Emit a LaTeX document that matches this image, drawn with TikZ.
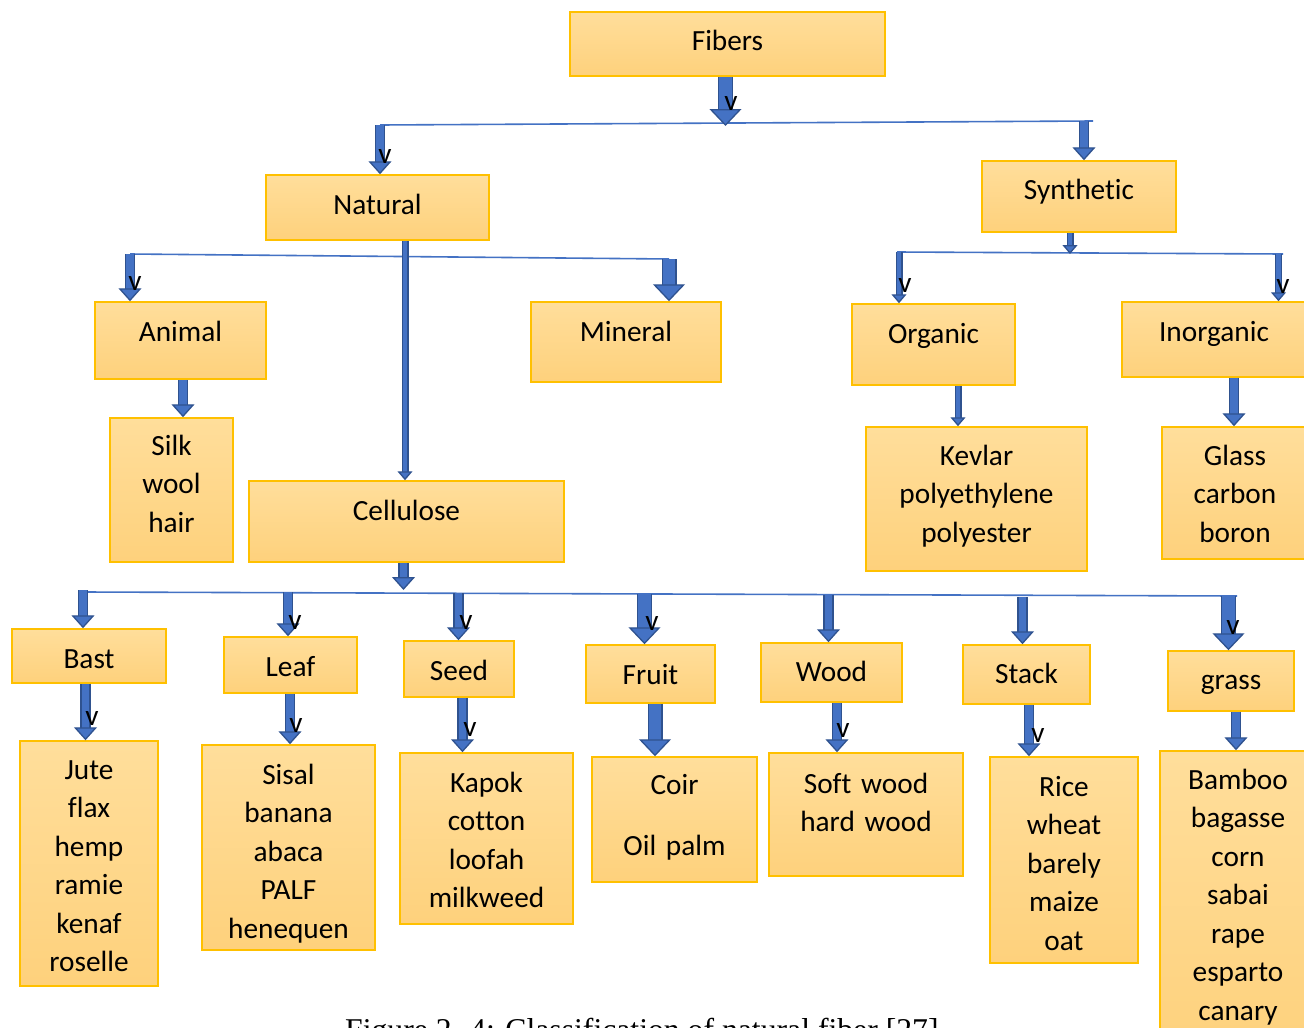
\documentclass[tikz,border=0pt]{standalone}
\usepackage{fontspec}
\setmainfont{Carlito}[Ligatures=NoCommon]
\newfontfamily\capfont{Liberation Serif}
\usetikzlibrary{arrows.meta}

\definecolor{boxedge}{RGB}{255,192,0}
\definecolor{boxtop}{RGB}{255,222,155}
\definecolor{boxbot}{RGB}{254,209,124}
\definecolor{arrowblue}{RGB}{68,114,196}
\definecolor{arrowedge}{RGB}{47,82,143}

\tikzset{
  fbox/.style={draw=boxedge, line width=1.5pt, top color=boxtop, bottom color=boxbot,
    anchor=base, inner sep=0pt, align=center, font=\fontsize{29.3}{38.5}\selectfont},
  blockarrow/.style n args={3}{draw=arrowblue, line width=#1-2.6pt,
    -{Triangle[width=#2, length=#3, fill=arrowblue, color=arrowedge, line width=1.3pt]},
    preaction={draw=arrowedge, line width=#1, -, shorten >=#3-1pt}},
  thinarr/.style={blockarrow={7pt}{15pt}{9pt}},
  midarr/.style={blockarrow={10.5pt}{23pt}{13pt}},
  bigarr/.style={blockarrow={15pt}{32pt}{17pt}},
  bus/.style={draw=arrowblue, line width=1.6pt},
  vmark/.style={inner sep=0pt, font=\fontsize{29.3}{30}\selectfont}
}

\begin{document}
\begin{tikzpicture}[x=1pt, y=-1pt]
  \useasboundingbox (0,0) rectangle (1304,1028);
  \clip (0,0) rectangle (1304,1028);
  \fill[white] (0,0) rectangle (1304,1028);

  % boxes: at (centre x, first baseline)
  \node[fbox, text width=315pt, text height=38pt, text depth=26pt] (fibers) at (727.5,50) {Fibers};
  \node[fbox, text width=223pt, text height=39pt, text depth=26pt] (natural) at (377.5,214) {Natural};
  \node[fbox, text width=194pt, text height=38pt, text depth=33pt] (synthetic) at (1079,199) {Synthetic};
  \node[fbox, text width=171pt, text height=39pt, text depth=38pt] (animal) at (180.5,341) {Animal};
  \node[fbox, text width=190pt, text height=39pt, text depth=41pt] (mineral) at (626,341) {Mineral};
  \node[fbox, text width=163pt, text height=39pt, text depth=42pt] (organic) at (933.5,343) {Organic};
  \node[fbox, text width=184pt, text height=39pt, text depth=36pt] (inorganic) at (1214,341) {Inorganic};
  \node[fbox, text width=123pt, text height=37pt, text depth=107pt] (silk) at (171.5,455) {Silk\\wool\\hair};
  \node[fbox, text width=315pt, text height=39pt, text depth=42pt] (cellulose) at (406.5,520) {Cellulose};
  \node[fbox, text width=221pt, text height=38pt, text depth=106pt] (kevlar) at (976.5,465) {Kevlar\\polyethylene\\polyester};
  \node[fbox, text width=146pt, text height=38pt, text depth=94pt] (glass) at (1235,465) {Glass\\carbon\\boron};

  \node[fbox, text width=154pt, text height=39pt, text depth=15pt] (bast) at (89,668) {Bast};
  \node[fbox, text width=133pt, text height=39pt, text depth=17pt] (leaf) at (290.5,676) {Leaf};
  \node[fbox, text width=110pt, text height=39pt, text depth=17pt] (seed) at (459,680) {Seed};
  \node[fbox, text width=129pt, text height=39pt, text depth=19pt] (fruit) at (650.5,684) {Fruit};
  \node[fbox, text width=141pt, text height=38pt, text depth=21pt] (wood) at (831.5,681) {Wood};
  \node[fbox, text width=127pt, text height=38pt, text depth=21pt] (stack) at (1026.5,683) {Stack};
  \node[fbox, text width=126pt, text height=38pt, text depth=22pt] (grass) at (1231,689) {grass};

  \node[fbox, text width=138pt, text height=38pt, text depth=207pt] (jute) at (89,779) {Jute\\flax\\hemp\\ramie\\kenaf\\roselle};
  \node[fbox, text width=173pt, text height=39pt, text depth=166pt] (sisal) at (288.5,784) {Sisal\\banana\\abaca\\PALF\\henequen};
  \node[fbox, text width=173pt, text height=39pt, text depth=132pt] (kapok) at (486.5,792) {Kapok\\cotton\\loofah\\milkweed};
  \node[fbox, text width=165pt, text height=37pt, text depth=88pt] (coir) at (674.5,794) {Coir\\[22.5pt]Oil palm};
  \node[fbox, text width=194pt, text height=40pt, text depth=83pt] (softwood) at (866,793) {Soft wood\\hard wood};
  \node[fbox, text width=148pt, text height=39pt, text depth=167pt] (rice) at (1064,796) {Rice\\wheat\\barely\\maize\\oat};
  \node[fbox, text width=156pt, text height=38pt, text depth=271pt] (bamboo) at (1238,789) {Bamboo\\bagasse\\corn\\sabai\\rape\\esparto\\canary};

  % bus lines
  \coordinate (tb-l) at (380,125);
  \coordinate (tb-r) at (1093,121);
  \coordinate (tb-s) at (1084,121.2);
  \coordinate (fb) at (725.5,126);
  \coordinate (nb-l) at (130,254);
  \coordinate (nb-r) at (669,259);
  \coordinate (sb) at (1070,254);
  \coordinate (sb-l) at (897,252);
  \coordinate (sb-r) at (1283,254);
  \coordinate (sb-o) at (899,252);
  \coordinate (sb-i) at (1278.5,254);
  \coordinate (cb) at (403.5,590);
  \coordinate (bb-l) at (84,592);
  \coordinate (bb-r) at (1237,596);
  \coordinate (r-bast) at (83,590);
  \coordinate (r-leaf) at (288,592);
  \coordinate (r-seed) at (458.5,593.3);
  \coordinate (r-fruit) at (644.5,594);
  \coordinate (r-wood) at (828.5,594.5);
  \coordinate (r-stack) at (1022.5,597);
  \coordinate (r-grass) at (1228.5,596);

  \draw[bus] (tb-l) -- (tb-r);
  \draw[bus] (nb-l) -- (nb-r);
  \draw[bus] (sb-l) -- (sb-r);
  \draw[bus] (bb-l) -- (bb-r);

  % arrows
  \draw[bigarr] (fibers.south -| fb) -- (fb);
  \draw[midarr] (tb-l) -- (tb-l |- natural.north);
  \draw[midarr] (tb-s) -- (tb-s |- synthetic.north);
  \draw[midarr] (nb-l) -- (nb-l |- animal.north);
  \draw[bigarr] (nb-r) -- (nb-r |- mineral.north);
  \draw[thinarr] ([xshift=-1.5pt]cellulose.north |- natural.south) -- ([xshift=-1.5pt]cellulose.north);
  \draw[midarr] ([xshift=2.5pt]animal.south) -- ([xshift=2.5pt]animal.south |- silk.north);
  \draw[midarr] (cellulose.south -| cb) -- (cb);
  \draw[thinarr] (synthetic.south -| sb) -- (sb);
  \draw[thinarr] (sb-o) -- (sb-o |- organic.north);
  \draw[thinarr] (sb-i) -- (sb-i |- inorganic.north);
  \draw[thinarr] ([xshift=24.5pt]organic.south) -- ([xshift=24.5pt]organic.south |- kevlar.north);
  \draw[midarr] ([xshift=20pt]inorganic.south) -- ([xshift=20pt]inorganic.south |- glass.north);

  \foreach \r/\n in {r-bast/bast, r-leaf/leaf, r-seed/seed, r-wood/wood, r-stack/stack}
    \draw[midarr] (\r) -- (\r |- \n.north);
  \foreach \r/\n in {r-fruit/fruit, r-grass/grass}
    \draw[bigarr] (\r) -- (\r |- \n.north);

  \foreach \a/\b/\s in {bast/jute/-3.5, leaf/sisal/-0.5, seed/kapok/3.5, wood/softwood/5.5, stack/rice/2.5, grass/bamboo/5}
    \draw[midarr] ([xshift=\s pt]\a.south) -- ([xshift=\s pt]\a.south |- \b.north);
  \draw[bigarr] ([xshift=4.5pt]fruit.south) -- ([xshift=4.5pt]fruit.south |- coir.north);

  % stray v marks
  \foreach \x/\y [count=\i] in {731/104, 385/157, 135/283, 905/285, 1283/286, 295/622, 466/622,
    652/623, 1233/627, 92/718, 296/725, 470/729, 843/730, 1038/735}
    \node[vmark] (v\i) at (\x,\y) {v};

  \node[anchor=base west, inner sep=0pt, font=\capfont\fontsize{31.7}{36}\selectfont] (caption)
    at (345,1040) {Figure 2. 4: Classification of natural fiber [27]};
\end{tikzpicture}
\end{document}
